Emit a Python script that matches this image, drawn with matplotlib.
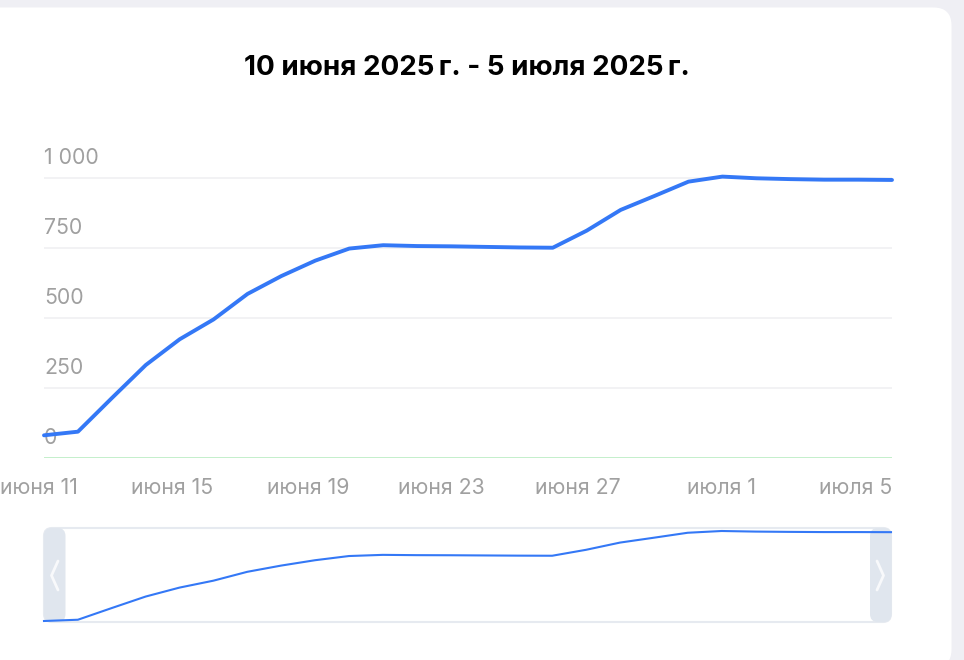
import matplotlib
matplotlib.use("Agg")
import matplotlib.pyplot as plt
from matplotlib.patches import FancyBboxPatch
import pandas as pd

# Data
dates = pd.date_range("2025-06-10", "2025-07-05", freq="D")
values = [81, 94, 214, 332, 424, 495, 586, 650, 705, 748, 760, 757, 756,
          754, 752, 751, 812, 886, 936, 987, 1005, 999, 996, 994, 994, 993]

y_ticks = [0, 250, 500, 750, 1000]
y_tick_labels = ["0", "250", "500", "750", "1 000"]
x_tick_dates = pd.to_datetime(["2025-06-11", "2025-06-15", "2025-06-19", "2025-06-23",
                               "2025-06-27", "2025-07-01", "2025-07-05"])
x_tick_labels = ["июня 11", "июня 15", "июня 19", "июня 23", "июня 27", "июля 1", "июля 5"]
title = "10 июня 2025\u2009г. - 5 июля 2025\u2009г."

W, H = 964, 660
LINE = "#3478f6"
GREY_TXT = "#a0a0a0"
FONT = ["Inter", "DejaVu Sans"]
plt.rcParams["font.family"] = FONT


def fig_rect(x0, y0, x1, y1):
    # pixel box (top-left origin) -> figure fraction rect
    return [x0 / W, 1 - y1 / H, (x1 - x0) / W, (y1 - y0) / H]


fig = plt.figure(figsize=(W / 100, H / 100), dpi=100)
fig.patch.set_facecolor("#efeff4")

# background layer in pixel coordinates
bg = fig.add_axes([0, 0, 1, 1], zorder=0)
bg.set_xlim(0, W)
bg.set_ylim(H, 0)
bg.axis("off")
bg.add_patch(FancyBboxPatch((-40, 7.5), 991.5, 660, boxstyle="round,pad=0,rounding_size=18",
                            facecolor="white", edgecolor="none"))

# navigator frame and handles
bg.add_patch(FancyBboxPatch((44, 528), 847, 94, boxstyle="round,pad=0,rounding_size=8",
                            facecolor="white", edgecolor="#e6eaf0", linewidth=1.5))
for hx in (44, 870):
    bg.add_patch(FancyBboxPatch((hx, 528), 21.5, 94, boxstyle="round,pad=0,rounding_size=8",
                                facecolor="#e0e6ee", edgecolor="none"))
bg.plot([58, 51.5, 58], [561, 575.5, 590], color="#f8f9fb", lw=2, solid_capstyle="round",
        solid_joinstyle="round")
bg.plot([877, 883.5, 877], [561, 575.5, 590], color="#f8f9fb", lw=2, solid_capstyle="round",
        solid_joinstyle="round")

fig.text(467 / W, 1 - 68 / H, title, ha="center", va="center", fontsize=20,
         fontweight="bold", color="black")

# main chart
ax = fig.add_axes(fig_rect(44, 150, 892, 458), zorder=2)
ax.patch.set_alpha(0)
px_per_unit = 0.28
ax.set_ylim(0, 308 / px_per_unit)
ax.set_xlim(dates[0], dates[-1])
for s in ax.spines.values():
    s.set_visible(False)

for v in y_ticks[1:]:
    ax.axhline(v, color="#f0f0f2", lw=1.2, zorder=1)
ax.axhline(0, color="#c4efcb", lw=1.4, zorder=1)

ax.plot(dates, values, color=LINE, lw=2.8, solid_joinstyle="round", solid_capstyle="round",
        zorder=3, clip_on=False)

ax.set_yticks([])
for v, lab in zip(y_ticks, y_tick_labels):
    ax.annotate(lab, xy=(0, v), xycoords=("axes fraction", "data"), xytext=(0, 10.3),
                textcoords="offset points", ha="left", va="baseline", fontsize=15.3,
                color=GREY_TXT, zorder=2)

ax.set_xticks(x_tick_dates, labels=x_tick_labels)
ax.tick_params(axis="x", length=0, pad=14.5, labelsize=15.3, labelcolor=GREY_TXT)
for t in ax.get_xticklabels():
    t.set_ha("right")

# navigator line
nav = fig.add_axes(fig_rect(44, 528, 891, 622), zorder=3)
nav.patch.set_alpha(0)
nav.axis("off")
vmin, vmax = min(values), max(values)
unit = (vmax - vmin) / 90.0
nav.set_ylim(vmin - 1 * unit, vmax + 3 * unit)
nav.set_xlim(dates[0], dates[-1])
nav.plot(dates, values, color=LINE, lw=1.5, clip_on=False)

fig.savefig("out.png", dpi=100, facecolor=fig.get_facecolor())
